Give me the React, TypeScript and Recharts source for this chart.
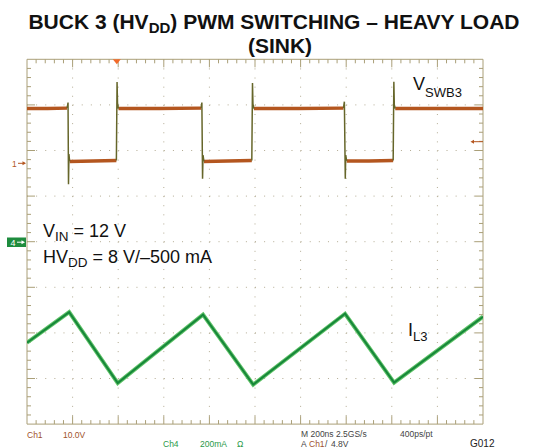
import React from 'react';
import { LineChart, Line, XAxis, YAxis, CartesianGrid, ReferenceLine } from 'recharts';

// ---------- data (read from the scope shot) ----------
// time axis: 200 ns/div, 10 divisions
const timeMajorTicks = [200, 400, 600, 800, 1000, 1200, 1400, 1600, 1800];
const timeMinorTicks = Array.from({ length: 49 }, (_, k) => (k + 1) * 40);
// vertical grid in divisions (8 divisions)
const divMajorTicks = [-3, -2, -1, 0, 1, 2, 3];
const divMinorTicks = Array.from({ length: 39 }, (_, k) => Math.round((-3.8 + k * 0.2) * 10) / 10);

// Ch1: V_SWB3 (10 V/div)
const swTimes = [0, 90, 176, 180, 182, 184, 187, 290, 392, 395, 397, 401, 580, 764, 767, 770, 772, 776, 880, 986, 989, 991, 995, 1190, 1388, 1392, 1396, 1398, 1402, 1500, 1606, 1609, 1611, 1615, 1800, 2000];
const swVolts = [12.0, 12.0, 12.1, 13.3, -4.6, 2.0, 0.4, 0.5, 0.6, 17.8, 13.2, 12.0, 12.0, 12.1, 13.3, -3.4, 1.8, 0.4, 0.5, 0.6, 17.6, 13.0, 12.0, 12.0, 12.1, 13.5, -3.4, 1.8, 0.5, 0.5, 0.6, 17.9, 12.8, 12.0, 12.0, 12.0];
// p = plateau, e = edge, b = both (boundary)
const swKind = ['p', 'p', 'b', 'e', 'e', 'e', 'b', 'p', 'b', 'e', 'e', 'b', 'p', 'b', 'e', 'e', 'e', 'b', 'p', 'b', 'e', 'e', 'b', 'p', 'b', 'e', 'e', 'e', 'b', 'p', 'b', 'e', 'e', 'b', 'p', 'p'];

// Ch4: I_L3 (200 mA/div)
const ilTimes = [0, 185, 398, 772, 992, 1395, 1610, 2000];
const ilMilliamps = [-443, -309, -620, -320, -627, -316, -618, -329];

const swRows = swTimes.map((t, k) => ({
  t,
  plateau: swKind[k] !== 'e' ? swVolts[k] : null,
  edge: swKind[k] !== 'p' ? swVolts[k] : null,
}));
const ilRows = ilTimes.map((t, k) => ({ t, i: ilMilliamps[k] }));

// ---------- layout / style ----------
const W = 533;
const H = 448;
const PLOT_L = 27;
const PLOT_R = 483;
const PLOT_T = 59.3;
const PLOT_B = 424.1;
const PX_PER_DIV = 45.6;
const FRAME = '#aa9f78';
const GRID = '#b3ab93';
const BROWN = '#b4561f';
const OLIVE = '#66662a';
const GREEN_DARK = '#16873a';
const GREEN_LIGHT = '#5fc267';
const FONT = '"Liberation Sans", Arial, Helvetica, sans-serif';

const isMajorTime = (t: number) => Math.abs(t / 200 - Math.round(t / 200)) < 1e-6;
const isMajorDiv = (d: number) => Math.abs(d - Math.round(d)) < 1e-6;
// tick lengths, expressed in axis units
const tickLenDiv = (major: boolean) => (major ? 8 : 4) / PX_PER_DIV;
const tickLenNs = (major: boolean) => ((major ? 8 : 4) / PX_PER_DIV) * 200;

export default function App() {
  return (
    <div style={{ position: 'absolute', left: 0, top: 0, width: W, height: H, background: '#fff' }}>
      <LineChart width={W} height={H} margin={{ top: PLOT_T, right: W - PLOT_R, bottom: H - PLOT_B, left: PLOT_L }}>
        <XAxis dataKey="t" type="number" domain={[0, 2000]} hide allowDataOverflow />
        <YAxis yAxisId={0} type="number" domain={[-4, 4]} hide allowDataOverflow />
        <YAxis yAxisId="v" type="number" domain={[-57.2, 22.8]} hide allowDataOverflow />
        <YAxis yAxisId="i" type="number" domain={[-800, 800]} hide allowDataOverflow />
        <CartesianGrid
          horizontalValues={divMajorTicks}
          verticalValues={timeMajorTicks}
          stroke={GRID}
          strokeDasharray="1 8.12"
        />
        <ReferenceLine y={4} stroke={FRAME} strokeWidth={1} />
        <ReferenceLine y={-4} stroke={FRAME} strokeWidth={1} />
        <ReferenceLine x={0} stroke={FRAME} strokeWidth={1} />
        <ReferenceLine x={2000} stroke={FRAME} strokeWidth={1} />
        {timeMinorTicks.map((t) => (
          <ReferenceLine
            key={`b${t}`}
            segment={[{ x: t, y: -4 }, { x: t, y: -4 + tickLenDiv(isMajorTime(t)) }]}
            stroke={FRAME}
            strokeWidth={1}
          />
        ))}
        {timeMinorTicks.map((t) => (
          <ReferenceLine
            key={`t${t}`}
            segment={[{ x: t, y: 4 }, { x: t, y: 4 - tickLenDiv(isMajorTime(t)) }]}
            stroke={FRAME}
            strokeWidth={1}
          />
        ))}
        {divMinorTicks.map((d) => (
          <ReferenceLine
            key={`l${d}`}
            segment={[{ x: 0, y: d }, { x: tickLenNs(isMajorDiv(d)), y: d }]}
            stroke={FRAME}
            strokeWidth={1}
          />
        ))}
        {divMinorTicks.map((d) => (
          <ReferenceLine
            key={`r${d}`}
            segment={[{ x: 2000 - tickLenNs(isMajorDiv(d)), y: d }, { x: 2000, y: d }]}
            stroke={FRAME}
            strokeWidth={1}
          />
        ))}
        <Line data={ilRows} dataKey="i" yAxisId="i" type="linear" stroke={GREEN_LIGHT} strokeWidth={4} dot={false} isAnimationActive={false} />
        <Line data={ilRows} dataKey="i" yAxisId="i" type="linear" stroke={GREEN_DARK} strokeWidth={2} dot={false} isAnimationActive={false} />
        <Line data={swRows} dataKey="plateau" yAxisId="v" type="linear" stroke={BROWN} strokeWidth={3.4} dot={false} connectNulls={false} isAnimationActive={false} />
        <Line data={swRows} dataKey="edge" yAxisId="v" type="linear" stroke={OLIVE} strokeWidth={1.5} dot={false} connectNulls={false} isAnimationActive={false} />
      </LineChart>
      <svg width={W} height={H} style={{ position: 'absolute', left: 0, top: 0, pointerEvents: 'none' }} fontFamily={FONT}>
        {/* title */}
        <text x={274} y={29} textAnchor="middle" fontWeight="bold" fontSize={21} fill="#111">
          BUCK 3 (HV<tspan fontSize={15} dy={4}>DD</tspan><tspan dy={-4}>) PWM SWITCHING – HEAVY LOAD</tspan>
        </text>
        <text x={280} y={52.5} textAnchor="middle" fontWeight="bold" fontSize={21} fill="#111">(SINK)</text>

        {/* trace labels */}
        <text x={413} y={90} fontSize={18} fill="#111">
          V<tspan fontSize={13} dy={6.5}>SWB3</tspan>
        </text>
        <text x={43} y={237} fontSize={18} fill="#111">
          V<tspan fontSize={13.5} dy={3.5}>IN</tspan><tspan dy={-3.5}> = 12 V</tspan>
        </text>
        <text x={43} y={263} fontSize={18} fill="#111">
          HV<tspan fontSize={13.5} dy={3.5}>DD</tspan><tspan dy={-3.5}> = 8 V/–500 mA</tspan>
        </text>
        <text x={408} y={336} fontSize={18} fill="#111">
          I<tspan fontSize={13} dy={5}>L3</tspan>
        </text>

        {/* channel / trigger markers */}
        <text x={12} y={166.5} fontSize={8.5} fill={BROWN}>1</text>
        <line x1={18} x2={25} y1={163.3} y2={163.3} stroke={BROWN} strokeWidth={1} />
        <polygon points="26,163.3 22.5,161.3 22.5,165.3" fill={BROWN} />

        <rect x={7} y={237.5} width={19} height={9.5} fill="#1e8c3e" />
        <text x={10.5} y={245.8} fontSize={9} fill="#fff">4</text>
        <line x1={17} x2={23} y1={242.2} y2={242.2} stroke="#fff" strokeWidth={1} />
        <polygon points="25,242.2 21.5,240.2 21.5,244.2" fill="#fff" />

        <line x1={473} x2={483} y1={141.7} y2={141.7} stroke={BROWN} strokeWidth={1} />
        <polygon points="470.5,141.7 474,139.7 474,143.7" fill={BROWN} />

        <polygon points="112.8,59.3 120.8,59.3 116.8,64.3" fill="#f26a2a" />

        {/* scope readout */}
        <text x={27} y={437.5} fontSize={8.5} fill="#a0522d">Ch1</text>
        <text x={63} y={437.5} fontSize={8.5} fill="#a0522d">10.0V</text>
        <text x={163} y={447.3} fontSize={8.5} fill="#2a9a48">Ch4</text>
        <text x={200} y={447.3} fontSize={8.5} fill="#2a9a48">200mA</text>
        <text x={237} y={447.3} fontSize={8.5} fill="#2a9a48">Ω</text>
        <text x={301} y={436.7} fontSize={8.5} fill="#444">M 200ns 2.5GS/s</text>
        <text x={400} y={436.7} fontSize={8.5} fill="#444">400ps/pt</text>
        <text x={301} y={447.3} fontSize={8.5} fill="#444">A</text>
        <text x={309} y={447.3} fontSize={8.5} fill="#a0522d">Ch1</text>
        <text x={325} y={447.3} fontSize={8.5} fill="#444">/</text>
        <text x={331} y={447.3} fontSize={8.5} fill="#444">4.8V</text>
        <text x={470} y={447.3} fontSize={10} fill="#222">G012</text>
      </svg>
    </div>
  );
}
